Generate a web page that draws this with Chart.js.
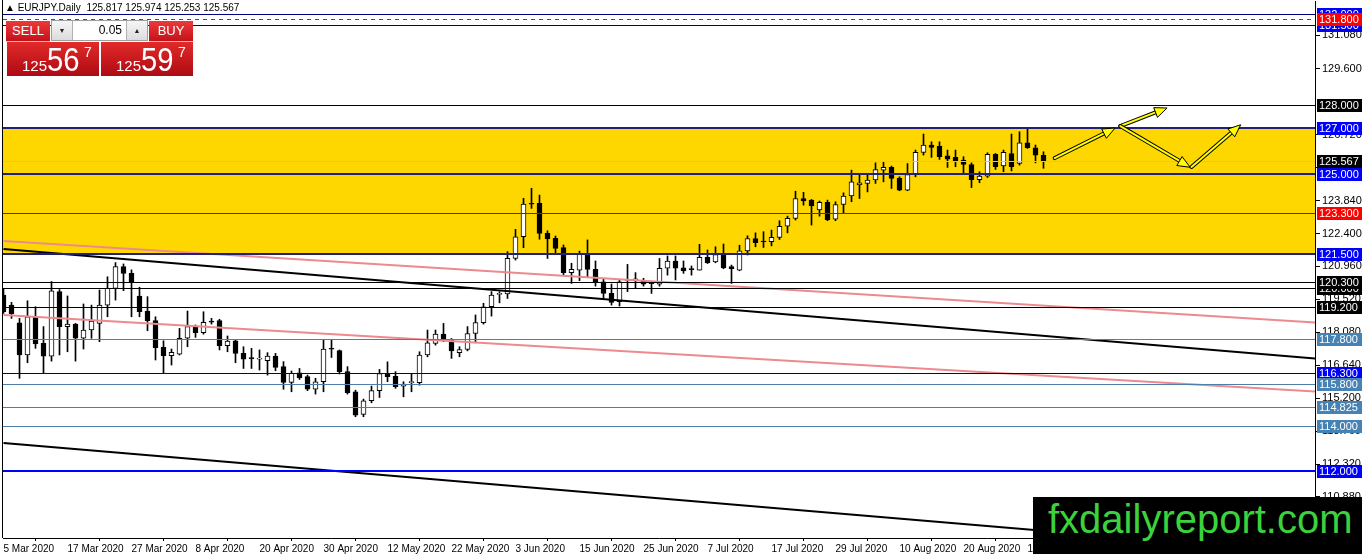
<!DOCTYPE html>
<html>
<head>
<meta charset="utf-8">
<script src="https://cdn.jsdelivr.net/npm/chart.js@4.4.1/dist/chart.umd.min.js"></script>
<style>
html, body { margin: 0; padding: 0; background: #fff; }
#wrap { position: relative; width: 1362px; height: 554px; overflow: hidden; font-family: 'Liberation Sans', Arial, sans-serif; }
#chart { position: absolute; left: 0; top: 0; }
#head { position: absolute; left: 5px; top: 2px; font-size: 10px; color: #000; white-space: pre; }
.red { position: absolute; background: linear-gradient(#ec3a3a, #c4121b); color: #fff; }
.btn { top: 21px; height: 20px; width: 44px; font-size: 13px; line-height: 20px; text-align: center; border-bottom: 1px solid #f3b0b0; }
#sellBtn { left: 6px; }
#buyBtn { left: 149px; }
#lot { position: absolute; left: 51px; top: 20px; width: 97px; height: 21px; border: 1px solid #a0a0a0; background: #fff; box-sizing: border-box; font-size: 12px; }
.spin { position: absolute; top: 0; width: 20px; height: 19px; background: linear-gradient(#f6f6f6, #dcdcdc); font-size: 7px; line-height: 19px; text-align: center; color: #222; }
#dn { left: 0; border-right: 1px solid #b0b0b0; }
#up { right: 0; border-left: 1px solid #b0b0b0; }
#lotv { position: absolute; right: 25px; top: 0; line-height: 19px; }
.price { top: 42px; height: 34px; width: 92px; background: linear-gradient(#e22a2a, #ad0a13); }
#sellPx { left: 7px; }
#buyPx { left: 101px; }
.small { position: absolute; left: 15px; top: 15px; font-size: 15px; }
.big { position: absolute; left: 40px; top: -2px; font-size: 34px; transform: scaleX(0.86); transform-origin: left; }
.sup { position: absolute; left: 77px; top: 2px; font-size: 14px; }
#wm { position: absolute; left: 1033px; top: 497px; width: 329px; height: 57px; background: #000; }
#wm span { position: absolute; left: 15px; top: 2px; font-size: 40px; line-height: 40px; color: #3cd23c; white-space: nowrap; }
</style>
</head>
<body>
<div id="wrap">
  <canvas id="chart" width="1362" height="554"></canvas>
  <div id="head">&#9650; EURJPY.Daily  125.817 125.974 125.253 125.567</div>
  <div class="red btn" id="sellBtn">SELL</div>
  <div id="lot"><div class="spin" id="dn">&#9660;</div><span id="lotv">0.05</span><div class="spin" id="up">&#9650;</div></div>
  <div class="red btn" id="buyBtn">BUY</div>
  <div class="red price" id="sellPx"><span class="small">125</span><span class="big">56</span><span class="sup">7</span></div>
  <div class="red price" id="buyPx"><span class="small">125</span><span class="big">59</span><span class="sup">7</span></div>
  <div id="wm"><span>fxdailyreport.com</span></div>
</div>
<script>
// EURJPY daily candles, 5 Mar 2020 .. 3 Sep 2020 (one per weekday)
const opens = [
  119.71, 119.27, 118.50, 117.09, 118.76, 117.60, 117.04, 119.86, 118.33, 118.44,
  117.82, 118.18, 118.47, 119.27, 120.00, 120.95, 120.66, 119.67, 119.01, 118.59,
  117.42, 117.06, 117.13, 117.82, 118.33, 118.06, 118.57, 118.59, 117.50, 117.71,
  117.16, 116.94, 116.91, 116.84, 117.04, 116.58, 115.89, 116.31, 116.14, 115.59,
  115.92, 117.35, 117.28, 116.36, 115.48, 114.49, 115.09, 115.53, 116.28, 116.16,
  115.73, 115.88, 115.88, 117.09, 117.60, 118.00, 117.74, 117.19, 117.33, 118.03,
  118.50, 119.20, 119.74, 119.76, 121.31, 122.26, 123.69, 123.72, 122.41, 122.19,
  121.78, 120.69, 120.80, 121.50, 120.83, 120.29, 119.78, 119.42, 120.35, 120.37,
  120.32, 120.22, 120.19, 120.88, 121.20, 120.90, 120.83, 120.80, 121.36, 121.16,
  121.48, 120.95, 120.80, 121.64, 122.18, 122.04, 122.04, 122.23, 122.72, 123.06,
  123.93, 123.86, 123.43, 123.76, 123.03, 123.67, 124.04, 124.52, 124.59, 124.74,
  125.17, 125.29, 124.81, 124.30, 124.98, 125.95, 126.27, 126.22, 125.80, 125.73,
  125.61, 125.42, 124.76, 124.91, 125.86, 125.36, 125.90, 125.46, 126.37, 126.15,
  125.817
];
const highs = [
  120.00, 119.39, 118.69, 119.46, 119.20, 118.33, 120.30, 119.95, 119.67, 118.47,
  119.32, 119.27, 119.93, 120.51, 121.13, 121.07, 120.81, 120.05, 119.64, 118.76,
  117.71, 117.35, 118.25, 119.01, 118.40, 118.98, 118.69, 118.65, 117.92, 117.77,
  117.45, 117.38, 117.31, 117.19, 117.16, 116.80, 116.39, 116.50, 116.21, 116.07,
  117.77, 117.74, 117.31, 116.58, 115.55, 115.16, 115.73, 116.46, 116.79, 116.36,
  115.92, 116.25, 117.23, 118.18, 118.18, 118.47, 117.81, 117.45, 118.33, 118.84,
  119.35, 119.86, 119.86, 121.61, 122.58, 123.94, 124.38, 124.08, 122.52, 122.29,
  121.90, 121.10, 121.63, 122.12, 121.20, 120.44, 120.19, 120.37, 121.05, 120.69,
  120.44, 120.29, 121.31, 121.42, 121.42, 121.20, 120.98, 121.93, 121.68, 121.82,
  121.94, 121.02, 121.89, 122.30, 122.43, 122.48, 122.55, 122.96, 123.16, 124.25,
  124.20, 123.89, 123.82, 123.86, 123.79, 124.18, 125.17, 125.03, 124.95, 125.49,
  125.54, 125.35, 124.88, 125.46, 126.05, 126.75, 126.41, 126.41, 126.05, 126.05,
  125.76, 125.49, 125.10, 125.93, 125.90, 126.05, 126.75, 126.85, 126.99, 126.27,
  125.974
];
const lows = [
  118.91, 118.69, 116.07, 116.75, 117.38, 116.29, 116.82, 117.09, 117.23, 116.82,
  117.35, 117.82, 117.67, 118.76, 119.49, 119.90, 118.76, 118.76, 118.15, 116.87,
  116.29, 116.65, 117.09, 117.45, 117.86, 118.00, 118.44, 117.31, 117.23, 116.75,
  116.50, 116.50, 116.43, 116.21, 116.40, 115.59, 115.48, 116.02, 115.53, 115.38,
  115.48, 116.98, 116.26, 115.38, 114.39, 114.39, 115.00, 115.23, 115.92, 115.63,
  115.26, 115.48, 115.77, 117.01, 117.52, 117.67, 116.94, 117.01, 117.27, 117.62,
  118.44, 118.79, 119.37, 119.56, 121.24, 121.78, 123.50, 122.15, 121.31, 121.53,
  120.58, 120.22, 120.34, 120.51, 120.10, 119.52, 119.27, 119.23, 119.86, 120.00,
  120.10, 119.78, 120.10, 120.58, 120.37, 120.66, 120.58, 120.80, 121.09, 121.12,
  120.86, 120.22, 120.77, 121.46, 121.82, 121.79, 121.86, 122.14, 122.43, 122.99,
  123.64, 122.77, 123.16, 122.96, 122.96, 123.28, 123.79, 123.93, 124.22, 124.59,
  124.66, 124.37, 124.27, 124.27, 124.88, 125.83, 125.73, 125.64, 125.29, 125.32,
  125.03, 124.41, 124.62, 124.85, 125.20, 125.10, 125.14, 125.39, 126.12, 125.49,
  125.253
];
const closes = [
  118.98, 118.88, 117.09, 118.76, 117.57, 117.04, 119.89, 118.33, 118.44, 117.82,
  118.18, 118.57, 119.27, 120.00, 120.95, 120.66, 120.25, 118.98, 118.59, 117.41,
  117.06, 117.20, 117.82, 118.33, 118.06, 118.52, 118.52, 117.50, 117.70, 117.16,
  116.91, 116.93, 116.93, 117.04, 116.55, 115.89, 116.29, 116.10, 115.59, 115.92,
  117.35, 117.34, 116.36, 115.44, 114.46, 115.09, 115.53, 116.28, 116.14, 115.70,
  115.82, 115.90, 117.09, 117.62, 118.00, 117.77, 117.27, 117.33, 118.03, 118.51,
  119.20, 119.71, 119.77, 121.31, 122.26, 123.69, 123.68, 122.41, 122.16, 121.75,
  120.69, 120.83, 121.50, 120.83, 120.26, 119.78, 119.39, 120.29, 120.40, 120.38,
  120.19, 120.21, 120.88, 121.20, 120.88, 120.77, 120.82, 121.36, 121.12, 121.48,
  120.90, 120.86, 121.64, 122.18, 122.00, 122.03, 122.23, 122.72, 123.06, 123.93,
  123.83, 123.61, 123.76, 123.01, 123.67, 124.04, 124.66, 124.62, 124.74, 125.20,
  125.29, 124.81, 124.30, 124.98, 125.95, 126.27, 126.16, 125.76, 125.65, 125.58,
  125.42, 124.76, 124.91, 125.86, 125.32, 125.95, 125.32, 126.37, 126.15, 125.83,
  125.567
];

// time axis labels (bar index -> date)
const xTickIdx = [0, 8, 16, 24, 32, 40, 48, 56, 64, 72, 80, 88, 96, 104, 112, 120, 128];
const xTickLabels = ['5 Mar 2020', '17 Mar 2020', '27 Mar 2020', '8 Apr 2020', '20 Apr 2020',
  '30 Apr 2020', '12 May 2020', '22 May 2020', '3 Jun 2020', '15 Jun 2020', '25 Jun 2020',
  '7 Jul 2020', '17 Jul 2020', '29 Jul 2020', '10 Aug 2020', '20 Aug 2020', '1 Sep 2020'];

// price axis ticks
const yTicks = [131.08, 129.6, 126.72, 125.28, 123.84, 122.4, 120.96, 119.52,
  118.08, 116.64, 115.2, 113.76, 112.32, 110.88];

// horizontal levels (drawn in this order)
const levelPrices = [132.0, 131.5, 131.8, 128.0, 127.0, 125.567, 125.0, 123.3, 121.5,
  120.0, 120.3, 119.2, 117.8, 116.3, 115.8, 114.825, 114.0, 112.0];
const levelStyles = [
  { line: '#000080', w: 1, label: '#0000ff' },
  { line: '#000080', w: 1, label: '#0000ff' },
  { line: '#ff0000', w: 1, dash: [4, 4], label: '#ff0000' },
  { line: '#000000', w: 1, label: '#000000' },
  { line: '#20207a', w: 2, label: '#0000ff' },
  { line: '#c0c0c0', w: 1, label: '#000000' },
  { line: '#20207a', w: 2, label: '#0000ff' },
  { line: '#cc0000', w: 1, label: '#ff0000' },
  { line: '#20207a', w: 2, label: '#0000ff' },
  { line: '#000000', w: 1, label: '#000000' },
  { line: '#000000', w: 1, label: '#000000' },
  { line: '#000000', w: 1, label: '#000000' },
  { line: '#4f7fa8', w: 1, label: '#4682b4' },
  { line: '#000080', w: 1, label: '#0000ff' },
  { line: '#4f7fa8', w: 1, label: '#4682b4' },
  { line: '#4f7fa8', w: 1, label: '#4682b4' },
  { line: '#4f7fa8', w: 1, label: '#4682b4' },
  { line: '#0000ff', w: 2, label: '#0000ff' }
];

// yellow zone
const zoneTop = 127.0;
const zoneBottom = 121.5;

// trend lines: [bar, price] end points
const blackLine1 = [[0, 121.72], [164, 116.93]];
const blackLine2 = [[0, 113.24], [164, 108.40]];
const pinkLine1 = [[0, 122.07], [164, 118.51]];
const pinkLine2 = [[0, 118.84], [164, 115.49]];

// yellow arrows: [from, to] in [bar, price]
const arrows = [
  [[131.4, 125.70], [138.9, 127.01]],
  [[139.6, 127.10], [145.4, 127.89]],
  [[139.6, 127.10], [148.3, 125.31]],
  [[148.5, 125.31], [154.6, 127.15]]
];

const toPts = (seg) => seg.map(p => ({ x: p[0], y: p[1] }));

const levelsPlugin = {
  id: 'levels',
  beforeDatasetsDraw(chart) {
    const { ctx, chartArea: a, scales: { y } } = chart;
    const zt = y.getPixelForValue(zoneTop);
    const zb = y.getPixelForValue(zoneBottom);
    ctx.save();
    ctx.fillStyle = '#ffd700';
    ctx.fillRect(a.left, zt, a.right - a.left, zb - zt);
    ctx.restore();
  },
  afterDatasetsDraw(chart) {
    const { ctx, chartArea: a, scales: { x, y } } = chart;
    ctx.save();
    ctx.beginPath();
    ctx.rect(a.left, a.top, a.right - a.left, a.bottom - a.top);
    ctx.clip();
    levelPrices.forEach((p, i) => {
      const s = levelStyles[i];
      let py = Math.round(y.getPixelForValue(p));
      if (s.w % 2) py += 0.5;
      ctx.strokeStyle = s.line;
      ctx.lineWidth = s.w;
      ctx.setLineDash(s.dash || []);
      ctx.beginPath();
      ctx.moveTo(a.left, py);
      ctx.lineTo(a.right, py);
      ctx.stroke();
    });
    ctx.setLineDash([]);
    // arrows
    arrows.forEach(seg => {
      const x1 = x.getPixelForValue(seg[0][0]), y1 = y.getPixelForValue(seg[0][1]);
      const x2 = x.getPixelForValue(seg[1][0]), y2 = y.getPixelForValue(seg[1][1]);
      const ang = Math.atan2(y2 - y1, x2 - x1);
      const bx = x2 - 12 * Math.cos(ang), by = y2 - 12 * Math.sin(ang);
      ctx.lineCap = 'round';
      ctx.strokeStyle = '#000';
      ctx.lineWidth = 4;
      ctx.beginPath(); ctx.moveTo(x1, y1); ctx.lineTo(bx, by); ctx.stroke();
      ctx.strokeStyle = '#ffff00';
      ctx.lineWidth = 2;
      ctx.beginPath(); ctx.moveTo(x1, y1); ctx.lineTo(bx, by); ctx.stroke();
      ctx.beginPath();
      ctx.moveTo(x2, y2);
      ctx.lineTo(bx + 5 * Math.sin(ang), by - 5 * Math.cos(ang));
      ctx.lineTo(bx - 5 * Math.sin(ang), by + 5 * Math.cos(ang));
      ctx.closePath();
      ctx.fillStyle = '#ffff00';
      ctx.fill();
      ctx.strokeStyle = '#000';
      ctx.lineWidth = 1;
      ctx.stroke();
    });
    ctx.restore();
  },
  afterDraw(chart) {
    const { ctx, chartArea: a, scales: { y } } = chart;
    ctx.save();
    // left frame
    ctx.strokeStyle = '#000';
    ctx.lineWidth = 1;
    ctx.beginPath(); ctx.moveTo(2.5, 0); ctx.lineTo(2.5, a.bottom); ctx.stroke();
    ctx.font = '11px "Liberation Sans", Arial, sans-serif';
    ctx.textBaseline = 'middle';
    levelPrices.forEach((p, i) => {
      const py = Math.round(y.getPixelForValue(p));
      ctx.fillStyle = levelStyles[i].label;
      ctx.fillRect(a.right + 2, py - 6, 46, 13);
      ctx.fillStyle = '#fff';
      ctx.fillText(p.toFixed(3), a.right + 4, py + 1);
    });
    ctx.restore();
  }
};

const lineSet = (pts, color) => ({
  type: 'line',
  data: toPts(pts),
  borderColor: color,
  borderWidth: 2,
  pointRadius: 0,
  tension: 0,
  order: 0
});

const chart = new Chart(document.getElementById('chart').getContext('2d'), {
  type: 'bar',
  data: {
    datasets: [
      lineSet(blackLine1, '#000000'),
      lineSet(blackLine2, '#000000'),
      lineSet(pinkLine1, '#ec8a8f'),
      lineSet(pinkLine2, '#ec8a8f'),
      {
        // candle bodies
        data: opens.map((o, i) => ({ x: i, y: [o, closes[i]] })),
        backgroundColor: opens.map((o, i) => closes[i] >= o ? '#ffffff' : '#000000'),
        borderColor: '#000000',
        borderWidth: 1,
        borderSkipped: false,
        barThickness: 5,
        minBarLength: 1,
        grouped: false,
        order: 1
      },
      {
        // wicks
        data: highs.map((h, i) => ({ x: i, y: [lows[i], h] })),
        backgroundColor: '#000000',
        borderWidth: 0,
        barThickness: 1,
        grouped: false,
        order: 2
      }
    ]
  },
  options: {
    responsive: false,
    animation: false,
    events: [],
    layout: { padding: { left: 3, top: 1, right: 0, bottom: 0 } },
    plugins: { legend: { display: false }, tooltip: { enabled: false } },
    scales: {
      x: {
        type: 'linear',
        min: -0.0625,
        max: 163.9375,
        offset: false,
        grid: { drawOnChartArea: false, tickLength: 3, color: '#000' },
        border: { color: '#000' },
        afterBuildTicks: (axis) => { axis.ticks = xTickIdx.map(v => ({ value: v })); },
        afterFit: (axis) => { axis.height = 16; axis.paddingLeft = 0; axis.paddingRight = 0; },
        ticks: {
          autoSkip: false,
          maxRotation: 0,
          align: 'start',
          padding: 2,
          color: '#000',
          font: { family: '"Liberation Sans", Arial, sans-serif', size: 10 },
          callback: (v, i) => xTickLabels[i]
        }
      },
      y: {
        position: 'right',
        min: 109.087,
        max: 132.567,
        grid: { drawOnChartArea: false, tickLength: 5, color: '#000' },
        border: { color: '#000' },
        afterBuildTicks: (axis) => { axis.ticks = yTicks.map(v => ({ value: v })); },
        afterFit: (axis) => { axis.width = 47; axis.paddingTop = 0; axis.paddingBottom = 0; },
        ticks: {
          autoSkip: false,
          padding: 2,
          color: '#000',
          font: { family: '"Liberation Sans", Arial, sans-serif', size: 11 },
          callback: (v) => v.toFixed(3)
        }
      }
    }
  },
  plugins: [levelsPlugin]
});
</script>
</body>
</html>
